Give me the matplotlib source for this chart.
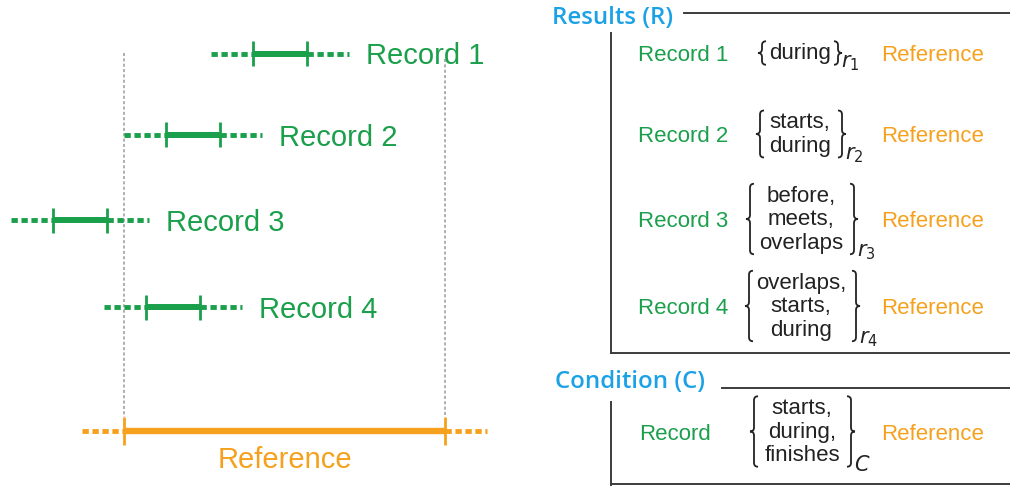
import matplotlib
matplotlib.use("Agg")
import matplotlib.pyplot as plt
from matplotlib.path import Path
from matplotlib.patches import PathPatch

# colours
green = "#1a9f4b"
orange = "#f6a11d"
blue = "#1ba1e6"
dark = "#3c3c3c"
ink = "#222222"

# time axis (left panel) -- interval ends in drawing units
ref_lo, ref_hi = 124, 445
rec_lo = [253, 166, 53, 146]
rec_hi = [307, 220, 107, 200]
rec_names = ["Record 1", "Record 2", "Record 3", "Record 4"]
relations = [["during"],
             ["starts,", "during"],
             ["before,", "meets,", "overlaps"],
             ["overlaps,", "starts,", "during"]]
subs = ["$r_1$", "$r_2$", "$r_3$", "$r_4$"]
cond_relations = ["starts,", "during,", "finishes"]

# layout
row_y = [54, 135, 220, 307]
ref_y = 431
ext = 42
brace_l = [762, 760, 750, 749]
brace_r = [838, 842, 854, 856]
text_cx = [800, 800, 801, 801]
line_gap = 23.5

plt.rcParams["font.family"] = ["Liberation Sans", "DejaVu Sans"]

fig = plt.figure(figsize=(10.1, 4.86), dpi=100)
ax = fig.add_axes([0, 0, 1, 1])
ax.set_xlim(0, 1010)
ax.set_ylim(486, 0)
ax.axis("off")


def interval(lo, hi, y, color, lw, tick):
    ax.plot([lo, hi], [y, y], color=color, lw=lw, solid_capstyle="butt")
    for a, b in [(lo - ext, lo), (hi, hi + ext)]:
        ax.plot([a, b], [y, y], color=color, lw=3.5,
                ls=(0, (1.3, 0.75)), dash_capstyle="butt")
    for x in (lo, hi):
        ax.plot([x, x], [y - tick, y + tick], color=color, lw=2.0,
                solid_capstyle="butt")


def brace(x, y0, y1, right=False, d=4):
    s = -1 if right else 1
    ym = (y0 + y1) / 2
    verts = [(x + s * d, y0), (x, y0), (x, y0 + d), (x, ym - d),
             (x, ym), (x - s * d, ym), (x, ym), (x, ym + d),
             (x, y1 - d), (x, y1), (x + s * d, y1)]
    codes = [Path.MOVETO, Path.CURVE3, Path.CURVE3, Path.LINETO,
             Path.CURVE3, Path.CURVE3, Path.CURVE3, Path.CURVE3,
             Path.LINETO, Path.CURVE3, Path.CURVE3]
    ax.add_patch(PathPatch(Path(verts, codes), fc="none", ec=ink, lw=1.3))


def relation_block(lines, cy, xl, xr, cx, sub):
    n = len(lines)
    for i, s in enumerate(lines):
        yy = cy + (i - (n - 1) / 2) * line_gap
        ax.text(cx, yy + 6, s, fontsize=16, color=ink, ha="center",
                va="baseline")
    half = n * line_gap / 2
    brace(xl, cy - half, cy + half)
    brace(xr, cy - half, cy + half, right=True)
    ax.text(xr + 3, cy + half - 2, sub, fontsize=15, color=ink,
            ha="left", va="center")


# ---- left panel ----
ax.plot([ref_lo, ref_lo], [53, ref_y - 14], color="#9a9a9a", lw=1.1,
        ls=(0, (2, 1.5)))
ax.plot([ref_hi, ref_hi], [59, ref_y - 14], color="#9a9a9a", lw=1.1,
        ls=(0, (2, 1.5)))

for lo, hi, y, name in zip(rec_lo, rec_hi, row_y, rec_names):
    interval(lo, hi, y, green, 4.3, 12.5)
    ax.text(hi + ext + 17, y + 10.5, name, fontsize=21, color=green,
            ha="left", va="baseline")

interval(ref_lo, ref_hi, ref_y, orange, 4.6, 14)
ax.text((ref_lo + ref_hi) / 2, 468, "Reference", fontsize=21, color=orange,
        ha="center", va="baseline")

# ---- right panel: results ----
ax.text(552, 18, "Results (R)", fontsize=17.3, color=blue, ha="left",
        va="center", family="Open Sans", fontweight="semibold")
ax.plot([684, 1010], [13.5, 13.5], color=dark, lw=1.4)
ax.plot([611, 611], [33, 353], color=dark, lw=1.4)
ax.plot([611, 1010], [353, 353], color=dark, lw=1.4)

for i, name in enumerate(rec_names):
    cy = row_y[i] - 1
    ax.text(638, cy + 8, name, fontsize=16, color=green, ha="left",
            va="baseline")
    relation_block(relations[i], cy, brace_l[i], brace_r[i], text_cx[i],
                   subs[i])
    ax.text(881, cy + 8, "Reference", fontsize=16, color=orange, ha="left",
            va="baseline")

# ---- right panel: condition ----
ax.text(555, 382, "Condition (C)", fontsize=17.3, color=blue, ha="left",
        va="center", family="Open Sans", fontweight="semibold")
ax.plot([722, 1010], [388, 388], color=dark, lw=1.4)
ax.plot([611, 611], [402, 486], color=dark, lw=1.4)
ax.plot([611, 1010], [484, 484], color=dark, lw=1.4)

cy = 431.5
ax.text(639, cy + 8, "Record", fontsize=16, color=green, ha="left",
        va="baseline")
relation_block(cond_relations, cy, 754, 851, 802, "$C$")
ax.text(881, cy + 8, "Reference", fontsize=16, color=orange, ha="left",
        va="baseline")

fig.savefig("out.png", dpi=100)
